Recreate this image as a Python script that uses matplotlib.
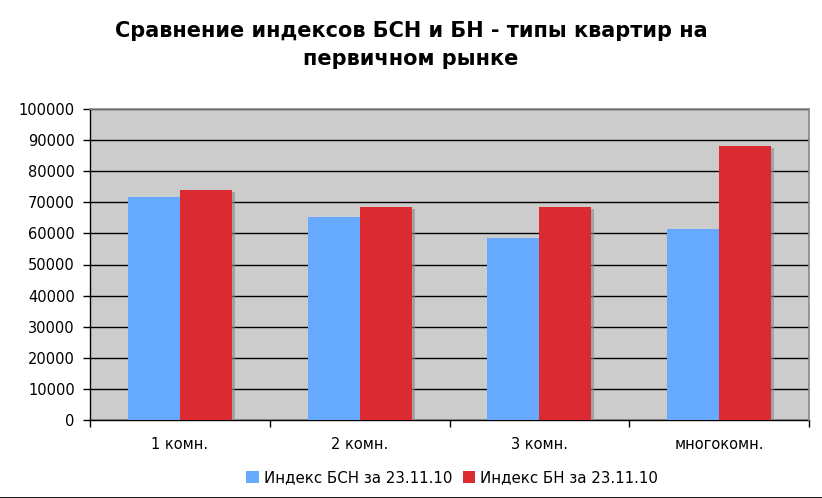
import numpy as np
import matplotlib.pyplot as plt
import matplotlib.patheffects as pe
from matplotlib.patches import Patch
from matplotlib.lines import Line2D

categories = ["1 комн.", "2 комн.", "3 комн.", "многокомн."]
bsn_values = [71600, 65200, 58500, 61300]
bn_values = [73900, 68400, 68400, 88100]
series_names = ["Индекс БСН за 23.11.10", "Индекс БН за 23.11.10"]
title = "Сравнение индексов БСН и БН - типы квартир на\nпервичном рынке"

blue = "#66aaff"
red = "#dc2a32"

fig = plt.figure(figsize=(8.22, 4.98), dpi=100)
ax = fig.add_axes([90/822, 78/498, 719/822, 311/498])
ax.set_facecolor("#cccccc")

x = np.arange(len(categories))
w = 0.289
shadow = [pe.SimplePatchShadow(offset=(2.2, -1.5), shadow_rgbFace="#888888", alpha=0.6), pe.Normal()]
b1 = ax.bar(x - w/2, bsn_values, w, color=blue, zorder=3, edgecolor="none")
b2 = ax.bar(x + w/2, bn_values, w, color=red, zorder=3, edgecolor="none")
for bars in (b1, b2):
    for p in bars:
        p.set_path_effects(shadow)

ax.set_xlim(-0.5, len(categories) - 0.5)
ax.set_ylim(0, 100000)
ax.set_yticks(np.arange(0, 100001, 10000))
ax.yaxis.grid(True, color="black", linewidth=1, zorder=1)
ax.set_axisbelow(True)

ax.set_xticks(np.arange(-0.5, len(categories), 1))
ax.set_xticklabels([])
ax.set_xticks(x, minor=True)
ax.set_xticklabels(categories, minor=True)
ax.tick_params(axis="x", which="minor", length=0, pad=12, labelsize=10.5)
ax.tick_params(axis="x", which="major", length=5, width=1, color="black")
ax.tick_params(axis="y", length=5, width=1, labelsize=10.5, pad=6)

for s in ("left", "bottom"):
    ax.spines[s].set_color("black")
    ax.spines[s].set_linewidth(1)
for s in ("top", "right"):
    ax.spines[s].set_color("#888888")
    ax.spines[s].set_linewidth(1.2)
    ax.spines[s].set_zorder(5)

fig.text(0.5, 1 - 45/498, title, ha="center", va="center", fontsize=15,
         fontweight="bold", linespacing=1.55)

handles = [Patch(facecolor=blue, edgecolor="none"), Patch(facecolor=red, edgecolor="none")]
fig.legend(handles, series_names, loc="center", bbox_to_anchor=(452/822, 1 - 478/498),
           ncol=2, frameon=False, fontsize=10.8, handlelength=0.85, handleheight=0.85,
           handletextpad=0.3, columnspacing=0.7)

fig.add_artist(Line2D([0, 1], [0.5/498, 0.5/498], color="black", linewidth=2,
                      transform=fig.transFigure))

fig.savefig("out.png", dpi=100)
